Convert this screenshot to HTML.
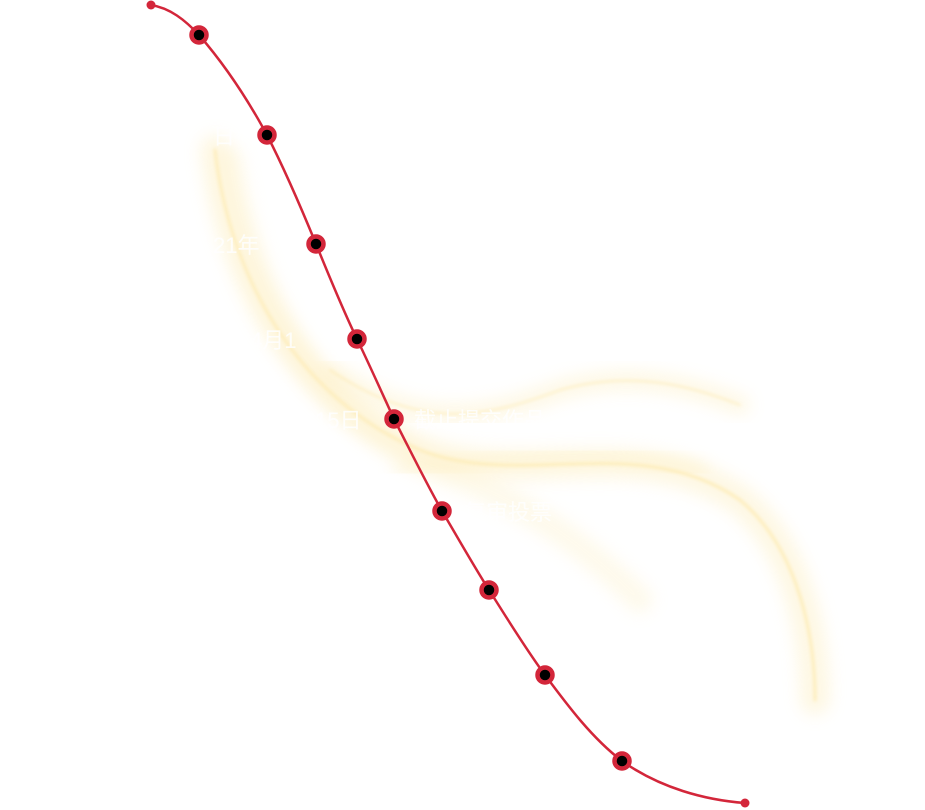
<!DOCTYPE html>
<html><head><meta charset="utf-8"><style>
html,body{margin:0;padding:0;background:#fff;}
svg{display:block}
text{font-family:"Liberation Sans","Noto Sans CJK SC",sans-serif;fill:#fff;font-size:22px;opacity:.85}
</style></head><body>
<svg width="925" height="810" viewBox="0 0 925 810" xmlns="http://www.w3.org/2000/svg">
<defs>
<filter id="b" x="-20%" y="-20%" width="140%" height="140%"><feGaussianBlur stdDeviation="8"/></filter>
<filter id="b2" x="-20%" y="-20%" width="140%" height="140%"><feGaussianBlur stdDeviation="1.5"/></filter>
</defs>
<g fill="none" stroke-linecap="round">
<path d="M215 150 C230 280 300 400 420 450 C520 490 640 430 740 500 C800 550 815 640 815 700" stroke="#fdeab0" stroke-width="30" opacity=".35" filter="url(#b)"/>
<path d="M215 150 C230 280 300 400 420 450 C520 490 640 430 740 500 C800 550 815 640 815 700" stroke="#fbe08a" stroke-width="3" opacity=".45" filter="url(#b2)"/>
<path d="M230 160 C250 300 320 420 440 470 C520 500 580 540 640 600" stroke="#fdeec0" stroke-width="26" opacity=".3" filter="url(#b)"/>
<path d="M330 370 C420 430 480 420 560 390 C630 370 690 385 740 405" stroke="#fde9ad" stroke-width="20" opacity=".3" filter="url(#b)"/>
<path d="M330 370 C420 430 480 420 560 390 C630 370 690 385 740 405" stroke="#fbe39a" stroke-width="2" opacity=".45" filter="url(#b2)"/>
<path d="M400 470 C500 460 600 440 700 470" stroke="#fdedb8" stroke-width="16" opacity=".3" filter="url(#b)"/>
</g>
<path d="M151 5 C170 8 185 20 199 35 C225 65 248 100 267 135 C285 170 300 205 316 244 C330 278 342 308 357 339 C370 366 382 393 394 419 C410 450 425 481 442 511 C458 538 472 563 489 590 C507 618 525 648 545 675 C568 706 592 738 622 761 C660 788 705 800 745 803" fill="none" stroke="#d3263a" stroke-width="2.5"/>
<circle cx="151" cy="5" r="4.5" fill="#d3263a"/>
<circle cx="745" cy="803" r="4.5" fill="#d3263a"/>
<g fill="#000" stroke="#d3263a" stroke-width="4.5">
<circle cx="199" cy="35" r="7.5"/><circle cx="267" cy="135" r="7.5"/><circle cx="316" cy="244" r="7.5"/>
<circle cx="357" cy="339" r="7.5"/><circle cx="394" cy="419" r="7.5"/><circle cx="442" cy="511" r="7.5"/>
<circle cx="489" cy="590" r="7.5"/><circle cx="545" cy="675" r="7.5"/><circle cx="622" cy="761" r="7.5"/>
</g>
<text x="213" y="144">日</text>
<text x="213" y="253">21年</text>
<text x="250" y="348">4月1</text>
<text x="315" y="428">15日</text>
<text x="414" y="428">截止提交作品</text>
<text x="464" y="520">复审投票</text>
</svg>
</body></html>
